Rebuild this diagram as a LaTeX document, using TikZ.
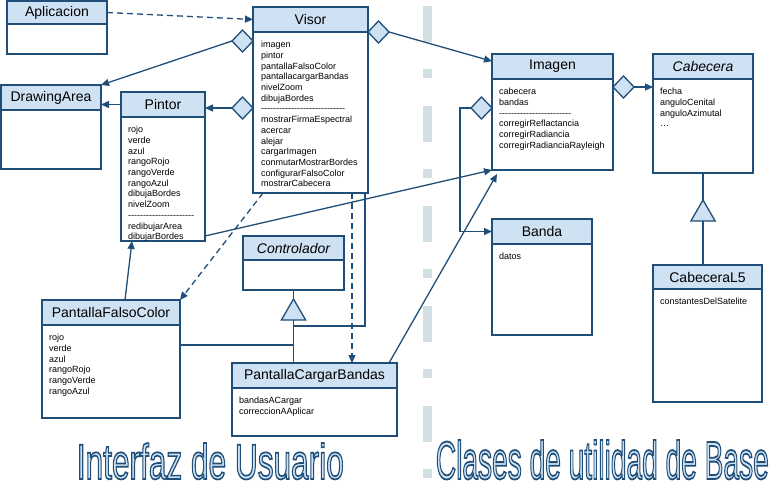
\documentclass[tikz,border=0pt]{standalone}
\usepackage{fontspec}
\setmainfont{Liberation Sans}
\newfontfamily\attrfont{Liberation Sans}
\usetikzlibrary{arrows.meta,shapes.geometric,calc,positioning}

\definecolor{umlblue}{HTML}{1F4E79}
\definecolor{headblue}{HTML}{CFE2F3}
\definecolor{sepgray}{HTML}{D2E0E4}

% texto hueco: relleno claro y trazo oscuro
\makeatletter
\newcommand\hollowtext[1]{{\fontsize{50}{50}\selectfont\pgfsetstrokecolor{umlblue}\pgfsetlinewidth{1.7pt}\pgfsys@invoke{2 Tr}#1\pgfsys@invoke{0 Tr}}}
\makeatother

\tikzstyle{head}=[draw=umlblue,fill=headblue,line width=1.6pt,anchor=north west,inner sep=0pt,outer sep=0pt,font=\fontsize{14}{16}\selectfont]
\tikzstyle{body}=[draw=umlblue,fill=white,line width=1.6pt,anchor=north west,inner sep=0pt,outer sep=0pt]
\tikzstyle{attrs}=[anchor=north west,align=left,inner sep=0pt,font=\attrfont\fontsize{9}{10.7}\selectfont]
\tikzstyle{line}=[draw=umlblue,line width=1.3pt]
\tikzstyle{arr}=[line,-{Triangle[length=8pt,width=7pt]}]
\tikzstyle{dsh}=[arr,dash pattern=on 6pt off 4pt]
\tikzstyle{diam}=[diamond,draw=umlblue,fill=headblue,line width=1.3pt,minimum width=21pt,minimum height=22pt,inner sep=0pt,outer sep=0pt]
\tikzstyle{inh}=[regular polygon,regular polygon sides=3,draw=umlblue,fill=headblue,line width=1.3pt,minimum size=28pt,inner sep=0pt,outer sep=0pt]
\tikzstyle{sep}=[draw=sepgray,line width=9pt,dash pattern=on 36pt off 27pt on 9pt off 28pt]
\tikzstyle{big}=[text=headblue,inner sep=0pt,anchor=base west]

\begin{document}
\begin{tikzpicture}[x=1pt,y=-1pt]

   \useasboundingbox (0,0) rectangle (771,482);

   % Separador de capas

   \draw[sep] (427,6) coordinate(sepTop) -- (427,482) coordinate(sepBot);

   % Interfaz de usuario

   \node[head,minimum width=100pt,minimum height=23pt] (apl) at (7,1) {Aplicacion};
   \node[body,minimum width=100pt,minimum height=30pt] (apl-b) at (apl.south west) {};

   \node[head,minimum width=115pt,minimum height=25pt] (visor) at (253,7) {Visor};
   \node[body,minimum width=115pt,minimum height=161pt] (visor-b) at (visor.south west) {};
   \node[attrs] (visor-t) at ($(visor-b.north west)+(8,9)$) {imagen\\pintor\\pantallaFalsoColor\\pantallacargarBandas\\nivelZoom\\dibujaBordes\\----------------------------\\mostrarFirmaEspectral\\acercar\\alejar\\cargarImagen\\conmutarMostrarBordes\\configurarFalsoColor\\mostrarCabecera};

   \node[head,minimum width=100pt,minimum height=25pt] (drawA) at (1,85) {DrawingArea};
   \node[body,minimum width=100pt,minimum height=59pt] (drawA-b) at (drawA.south west) {};

   \node[head,minimum width=84pt,minimum height=25pt] (pintor) at (121,92) {Pintor};
   \node[body,minimum width=84pt,minimum height=124pt] (pintor-b) at (pintor.south west) {};
   \node[attrs] (pintor-t) at ($(pintor-b.north west)+(7,9)$) {rojo\\verde\\azul\\rangoRojo\\rangoVerde\\rangoAzul\\dibujaBordes\\nivelZoom\\----------------------\\redibujarArea\\dibujarBordes};

   \node[head,minimum width=101pt,minimum height=24pt] (ctl) at (243,236) {\itshape Controlador};
   \node[body,minimum width=101pt,minimum height=30pt] (ctl-b) at (ctl.south west) {};

   \node[head,minimum width=138pt,minimum height=25pt] (pfc) at (42,300) {PantallaFalsoColor};
   \node[body,minimum width=138pt,minimum height=93pt] (pfc-b) at (pfc.south west) {};
   \node[attrs] (pfc-t) at ($(pfc-b.north west)+(7,9)$) {rojo\\verde\\azul\\rangoRojo\\rangoVerde\\rangoAzul};

   \node[head,minimum width=165pt,minimum height=25pt] (pcb) at (232,363) {PantallaCargarBandas};
   \node[body,minimum width=165pt,minimum height=48pt] (pcb-b) at (pcb.south west) {};
   \node[attrs] (pcb-t) at ($(pcb-b.north west)+(7,9)$) {bandasACargar\\correccionAAplicar};

   % Clases de utilidad

   \node[head,minimum width=121pt,minimum height=25pt] (imagen) at (492,54) {Imagen};
   \node[body,minimum width=121pt,minimum height=91pt] (imagen-b) at (imagen.south west) {};
   \node[attrs] (imagen-t) at ($(imagen-b.north west)+(7,9)$) {cabecera\\bandas\\------------------------\\corregirReflactancia\\corregirRadiancia\\corregirRadianciaRayleigh};

   \node[head,minimum width=100pt,minimum height=25pt] (cab) at (653,54) {\itshape Cabecera};
   \node[body,minimum width=100pt,minimum height=94pt] (cab-b) at (cab.south west) {};
   \node[attrs] (cab-t) at ($(cab-b.north west)+(7,9)$) {fecha\\anguloCenital\\anguloAzimutal\\\dots};

   \node[head,minimum width=100pt,minimum height=25pt] (banda) at (492,219) {Banda};
   \node[body,minimum width=100pt,minimum height=91pt] (banda-b) at (banda.south west) {};
   \node[attrs] (banda-t) at ($(banda-b.north west)+(7,9)$) {datos};

   \node[head,minimum width=109pt,minimum height=24pt] (cabL5) at (653,265) {CabeceraL5};
   \node[body,minimum width=109pt,minimum height=113pt] (cabL5-b) at (cabL5.south west) {};
   \node[attrs] (cabL5-t) at ($(cabL5-b.north west)+(7,9)$) {constantesDelSatelite};

   % Agregaciones y dependencias

   \node[diam] (dVisA) at (242.5,41) {};
   \node[diam] (dVisP) at (242.5,108) {};
   \node[diam] (dVisI) at (378.5,32) {};
   \node[diam] (dImC) at (623.5,87) {};
   \node[diam] (dImB) at (481.5,108) {};

   \draw[dsh] (apl.east) -- (visor.west);
   \draw[arr] (dVisA.west) -- (drawA.north east);
   \draw[arr] (dVisP.west) -- (dVisP.west -| pintor.east);
   \draw[arr] (pintor.west) -- (pintor.west -| drawA.east);
   \draw[arr] (dVisI.east) -- (imagen.175);
   \draw[arr] (dImC.east) -- (dImC.east -| cab.west);
   \draw[arr] (dImB.west) -- ++(-11,0) |- (banda.west);
   \draw[arr] ($(pfc.north west)+(83,0)$) -- ($(pintor-b.south west)+(11,0)$);
   \draw[dsh] ($(visor-b.south west)+(10,0)$) -- (pfc.north east);
   \draw[dsh] ($(visor-b.south west)+(99,0)$) coordinate(visDown) -- (visDown |- pcb.north);
   \draw[arr] ($(pintor-b.south east)+(0,-5)$) -- (imagen-b.south west);
   \draw[arr] ($(pcb.north east)+(-8,0)$) -- ($(imagen-b.south west)+(5,4)$);

   % Herencia

   \node[inh] (inhCtl) at (293.5,313) {};
   \draw[line] (ctl-b.south) -- (inhCtl.corner 1);
   \draw[line] (inhCtl.side 2) -- (inhCtl.side 2 |- pcb.north);
   \coordinate (ctlJoin) at ($(inhCtl.side 2)+(0,25)$);
   \draw[line] (ctlJoin) -- (ctlJoin -| pfc-b.east);
   \coordinate (visJoin) at ($(inhCtl.side 2)+(0,6)$);
   \draw[line] ($(visor-b.south east)+(-3,0)$) |- (visJoin);

   \node[inh] (inhCab) at (703,214) {};
   \draw[line] (cab-b.south) -- (inhCab.corner 1);
   \draw[line] (inhCab.side 2) -- (inhCab.side 2 |- cabL5.north);

   % Rotulos de capa

   \node[big] (uiLbl) at (76,479) {\resizebox{267pt}{36pt}{\hollowtext{Interfaz de Usuario}}};
   \node[big] (baseLbl) at (435,479) {\resizebox{333pt}{39pt}{\hollowtext{Clases de utilidad de Base}}};

\end{tikzpicture}
\end{document}
